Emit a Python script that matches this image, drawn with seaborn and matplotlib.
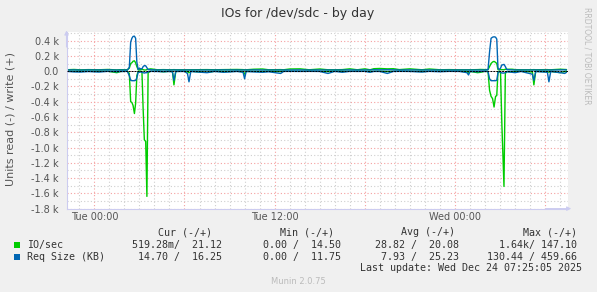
import matplotlib
matplotlib.use("Agg")
import matplotlib.pyplot as plt
from matplotlib.ticker import MultipleLocator, FuncFormatter
from matplotlib.patches import Rectangle
import numpy as np
import pandas as pd
import seaborn as sns

# ---- data (hours relative to Tue 00:00) ----
hours = [-1.85, -1.35, -0.9, -0.4, 0.3, 0.9, 1.5, 1.75, 2.2,
         2.33, 2.42, 2.50, 2.58, 2.67, 2.75, 2.83, 2.92, 3.00, 3.08, 3.17, 3.25, 3.33, 3.42, 3.50, 3.58, 3.75,
         4.2, 4.6, 5.0, 5.2, 5.3, 5.42, 6.0, 6.2, 6.3, 6.42, 7.5, 8.0, 8.6, 9.5, 9.9, 10.0, 10.1, 10.6, 11.2, 11.6,
         12.4, 12.6, 13.0, 13.7, 14.3, 15.0, 15.55, 16.0, 16.5, 17.0, 17.5, 18.0, 18.35, 18.6, 19.0, 19.5, 19.9,
         20.3, 21.0, 21.8, 22.3, 23.0, 23.6, 24.3, 24.8, 24.9, 25.0, 25.5, 25.7, 26.0,
         26.2, 26.3, 26.4, 26.5, 26.6, 26.7, 26.78, 26.86, 26.95, 27.03, 27.12, 27.26, 27.35, 27.45,
         27.8, 28.0, 28.4, 29.15, 29.25, 29.37, 30.15, 30.25, 30.37, 31.0, 31.3, 31.42]

io_read = [1, 2, 1, 2, 3, 1, 20, 4, 1,
           30, 400, 410, 450, 555, 420, 60, 2, 1, 2, 5, 500, 900, 920, 1640, 20, 2,
           1, 8, 2, 5, 180, 3, 2, 10, 20, 2, 15, 2, 5, 2, 5, 40, 3, 2, 3, 2,
           5, 2, 1, 2, 1, 2, 5, 1, 2, 1, 2, 1, 4, 2, 1, 5, 2,
           1, 1, 4, 1, 2, 1, 2, 5, 25, 3, 20, 15, 2,
           5, 250, 330, 360, 470, 330, 320, 10, 2, 20, 700, 1510, 30, 5,
           8, 3, 2, 10, 180, 3, 5, 15, 3, 20, 5, 0.5]

io_write = [18, 22, 17, 20, 18, 22, 16, 19, 18,
            40, 100, 110, 130, 135, 110, 60, 20, 18, 20, 25, 20, 15, 15, 20, 25, 30,
            18, 20, 18, 18, 20, 18, 18, 18, 18, 18, 20, 18, 20, 22, 20, 18, 18, 25, 28, 18,
            20, 18, 28, 30, 18, 28, 18, 18, 20, 30, 18, 30, 18, 32, 35, 30, 32,
            20, 30, 18, 28, 18, 20, 18, 18, 18, 18, 20, 22, 20,
            20, 60, 100, 120, 128, 115, 100, 20, 18, 20, 20, 18, 25, 25,
            25, 20, 18, 18, 20, 18, 20, 18, 18, 25, 22, 21]

size_read = [3, 10, 12, 5, 12, 3, 8, 5, 3,
             60, 120, 125, 125, 125, 120, 90, 10, 15, 10, 15, 20, 25, 20, 20, 8, 3,
             5, 8, 4, 10, 120, 5, 4, 30, 140, 5, 20, 4, 15, 4, 15, 100, 5, 10, 15, 8,
             30, 4, 3, 4, 3, 4, 30, 3, 15, 3, 4, 3, 15, 4, 4, 30, 4,
             3, 4, 12, 3, 8, 3, 4, 20, 50, 5, 8, 5, 3,
             5, 100, 125, 125, 125, 125, 120, 20, 5, 15, 25, 25, 20, 8,
             15, 20, 4, 40, 120, 5, 15, 140, 5, 20, 30, 15]

size_write = [15, 16, 14, 16, 15, 17, 14, 15, 15,
              50, 380, 430, 455, 458, 430, 120, 20, 40, 30, 30, 60, 72, 70, 45, 20, 18,
              15, 16, 15, 15, 16, 15, 15, 15, 15, 15, 15, 15, 16, 15, 15, 15, 15, 16, 15, 15,
              15, 15, 15, 16, 15, 15, 15, 15, 15, 16, 15, 16, 15, 18, 17, 18, 17,
              15, 16, 15, 15, 15, 15, 15, 15, 15, 15, 15, 15, 15,
              20, 250, 430, 445, 450, 445, 420, 40, 20, 40, 80, 88, 60, 20,
              16, 15, 15, 15, 16, 15, 15, 15, 15, 16, 18, 16]

x_tick_labels = {0: "Tue 00:00", 12: "Tue 12:00", 24: "Wed 00:00"}
legend_names = ["IO/sec", "Req Size (KB)"]
legend_cur = ["519.28m/  21.12", "14.70 /  16.25"]
legend_min = ["0.00 /  14.50", "0.00 /  11.75"]
legend_avg = ["28.82 /  20.08", "7.93 /  25.23"]
legend_max = ["1.64k/ 147.10", "130.44 / 459.66"]

GREEN = "#00CC00"
BLUE = "#0066B3"

sns.set_theme(style="white")
plt.rcParams["font.family"] = ["DejaVu Sans"]

df = pd.concat([
    pd.DataFrame({"h": hours, "v": -np.array(io_read, float), "s": "io_r"}),
    pd.DataFrame({"h": hours, "v": np.array(io_write, float), "s": "io_w"}),
    pd.DataFrame({"h": hours, "v": -np.array(size_read, float), "s": "sz_r"}),
    pd.DataFrame({"h": hours, "v": np.array(size_write, float), "s": "sz_w"}),
], ignore_index=True)

fig = plt.figure(figsize=(5.97, 2.92), dpi=100, facecolor="#F0F0F0")
ax = fig.add_axes([66.5 / 597, 1 - 208.6 / 292, (568 - 66.5) / 597, (208.6 - 32.2) / 292])
ax.set_facecolor("white")

ax.set_xlim(-1.85, 31.52)
ax.set_ylim(-1800, 510)

# grid
ax.xaxis.set_major_locator(MultipleLocator(6))
ax.xaxis.set_minor_locator(MultipleLocator(1))
ax.yaxis.set_major_locator(MultipleLocator(200))
ax.yaxis.set_minor_locator(MultipleLocator(100))
ax.grid(which="minor", color="#CFCFCF", linestyle=(0, (1, 2)), linewidth=0.8)
ax.grid(which="major", color="#F5A0A0", linestyle=(0, (1, 2)), linewidth=0.8)
ax.set_axisbelow(True)

ax.xaxis.set_major_formatter(FuncFormatter(lambda v, p: x_tick_labels.get(int(round(v)), "") if abs(v - round(v)) < 1e-6 else ""))
ax.yaxis.set_major_formatter(FuncFormatter(lambda v, p: "0.0" if abs(v) < 1e-6 else "%.1f k" % (v / 1000)))

sns.lineplot(data=df, x="h", y="v", hue="s", units="s", estimator=None, sort=False,
             hue_order=["io_r", "io_w", "sz_r", "sz_w"],
             palette={"io_r": GREEN, "io_w": GREEN, "sz_r": BLUE, "sz_w": BLUE},
             linewidth=1.0, legend=False, ax=ax)
ax.axhline(0, color="black", linewidth=0.7, dashes=(2, 1), zorder=5)

ax.set_xlabel("")
ax.set_ylabel("")
for s in ["top", "right"]:
    ax.spines[s].set_visible(False)
for s in ["left", "bottom"]:
    ax.spines[s].set_color("#CCCCF0")
    ax.spines[s].set_linewidth(0.8)

ax.tick_params(axis="both", which="both", colors="#CCCCF0", labelcolor="#555555", labelsize=7)
ax.tick_params(axis="y", which="major", length=2, pad=3.5)
ax.tick_params(axis="y", which="minor", length=0)
ax.tick_params(axis="x", which="major", length=2, pad=0.8)
ax.tick_params(axis="x", which="minor", length=0)

# axis arrows
ax.annotate("", xy=(0, 1 + 4.5 / 176.4), xytext=(0, 0.9), xycoords="axes fraction",
            arrowprops=dict(arrowstyle="-|>", color="#CCCCF0", lw=0.8, mutation_scale=6), annotation_clip=False)
ax.annotate("", xy=(1 + 6 / 501.5, 0), xytext=(0.95, 0), xycoords="axes fraction",
            arrowprops=dict(arrowstyle="-|>", color="#CCCCF0", lw=0.8, mutation_scale=6), annotation_clip=False)

def fx(px):
    return px / 597

def fy(py):
    return 1 - py / 292

fig.text(fx(298), fy(14), "IOs for /dev/sdc - by day", ha="center", va="center", fontsize=9, color="#333333")
fig.text(fx(10.5), fy(118.5), "Units read (-) / write (+)", rotation=90, ha="center", va="center",
         fontsize=8, color="#555555")
fig.text(fx(587), fy(56), "RRDTOOL / TOBI OETIKER", rotation=270, ha="center", va="center",
         fontsize=5.5, color="#BBBBBB")

mono = dict(family="DejaVu Sans Mono", fontsize=7.2, color="#333333", va="center")
fig.text(fx(212), fy(232.3), "Cur (-/+)", ha="right", **mono)
fig.text(fx(334), fy(232.3), "Min (-/+)", ha="right", **mono)
fig.text(fx(455), fy(232.3), "Avg (-/+)", ha="right", **mono)
fig.text(fx(577), fy(232.3), "Max (-/+)", ha="right", **mono)
row_y = [244.7, 257.0]
for i, col in enumerate([GREEN, BLUE]):
    fig.patches.append(Rectangle((fx(14), fy(row_y[i] + 3)), 6 / 597, 6 / 292, transform=fig.transFigure,
                                 facecolor=col, edgecolor="none"))
    fig.text(fx(27), fy(row_y[i]), legend_names[i], ha="left", **mono)
    fig.text(fx(221.5), fy(row_y[i]), legend_cur[i], ha="right", **mono)
    fig.text(fx(340.7), fy(row_y[i]), legend_min[i], ha="right", **mono)
    fig.text(fx(458.7), fy(row_y[i]), legend_avg[i], ha="right", **mono)
    fig.text(fx(576.7), fy(row_y[i]), legend_max[i], ha="right", **mono)
fig.text(fx(582.5), fy(268.3), "Last update: Wed Dec 24 07:25:05 2025", ha="right", **mono)
fig.text(fx(298), fy(281), "Munin 2.0.75", ha="center", va="center", fontsize=6, color="#BBBBBB")

fig.savefig("out.png", dpi=100, facecolor=fig.get_facecolor())
